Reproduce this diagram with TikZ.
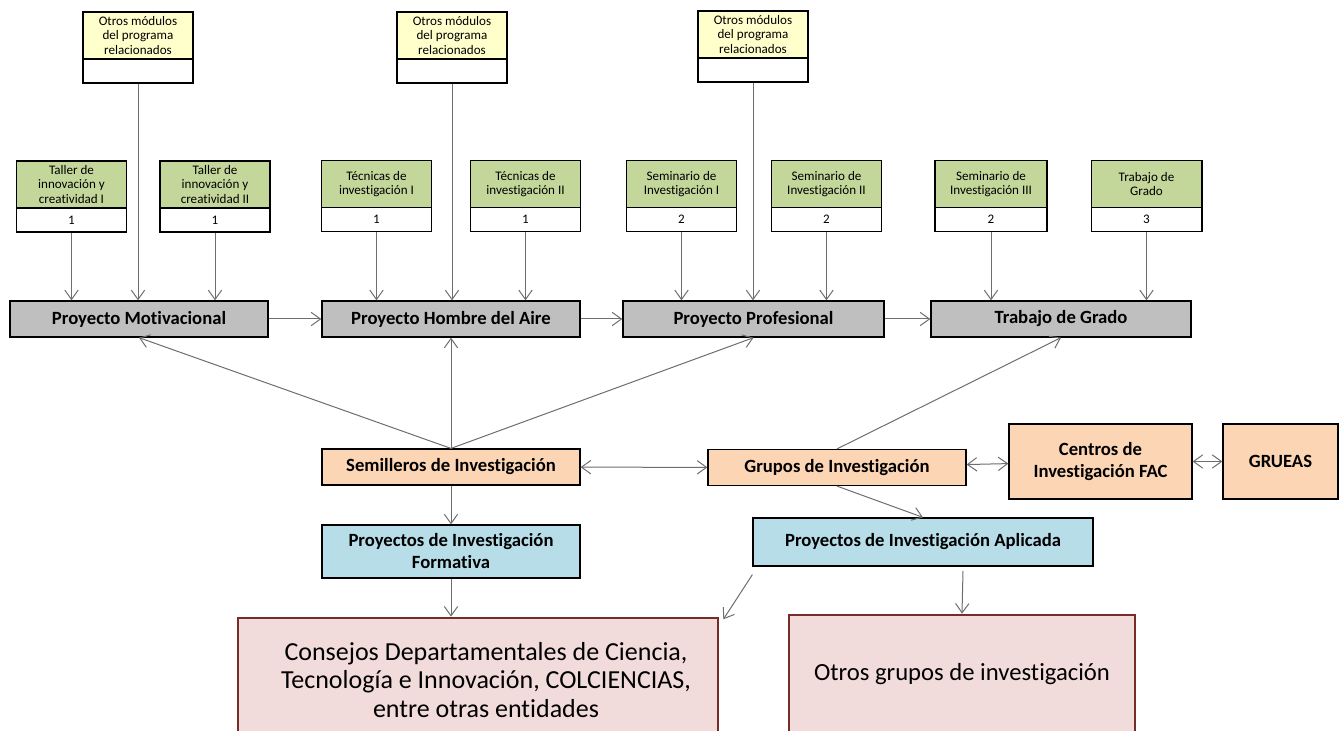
\documentclass[tikz,border=0pt]{standalone}
\usepackage{fontspec}
\setmainfont{Carlito}[Ligatures=CommonOff]
\usetikzlibrary{arrows.meta}

\definecolor{modyellow}{RGB}{255,255,204}
\definecolor{modgreen}{RGB}{196,215,155}
\definecolor{projgray}{RGB}{191,191,191}
\definecolor{semorange}{RGB}{252,213,180}
\definecolor{projblue}{RGB}{183,222,232}
\definecolor{entpink}{RGB}{242,220,219}
\definecolor{entborder}{RGB}{119,44,42}
\definecolor{linegray}{RGB}{110,110,110}

\tikzset{
  modbox/.style={draw=black, line width=1pt, fill=modyellow, inner sep=0pt, minimum width=82.5pt, minimum height=35.25pt, align=center, font=\fontsize{9.8}{10.7}\selectfont},
  greenbox/.style={modbox, fill=modgreen},
  numbox/.style={draw=black, line width=1pt, fill=white, inner sep=0pt, minimum width=82.5pt, minimum height=18pt, font=\fontsize{9.8}{10.7}\selectfont},
  projbox/.style={draw=black, line width=1pt, fill=projgray, inner sep=0pt, minimum width=193.5pt, minimum height=27pt, font=\fontsize{14}{16}\selectfont\bfseries},
  orangebox/.style={draw=black, line width=0.9pt, fill=semorange, inner sep=0pt, minimum height=27pt, align=center, font=\fontsize{14}{16.5}\selectfont\bfseries},
  bluebox/.style={orangebox, fill=projblue},
  pinkbox/.style={draw=entborder, line width=2pt, fill=entpink, inner sep=0pt, align=center, font=\fontsize{19.5}{21.4}\selectfont},
  arr/.style={draw=linegray, line width=0.75pt, -{Straight Barb[length=7pt,width=10pt]}},
  darr/.style={arr, {Straight Barb[length=7pt,width=10pt]}-{Straight Barb[length=7pt,width=10pt]}}
}

\begin{document}
\begin{tikzpicture}[x=0.75pt,y=0.75pt,yscale=-1,xscale=1]
\clip (0,0) rectangle (1340,731);
\fill[white] (0,0) rectangle (1340,731);

% modulos relacionados
\node (mod1) at (138,35.5) [modbox] {Otros módulos\\del programa\\relacionados};
\node (mod1n) at (138,71) [numbox] {};
\node (mod2) at (452,35.5) [modbox] {Otros módulos\\del programa\\relacionados};
\node (mod2n) at (452,71) [numbox] {};
\node (mod3) at (753,34.5) [modbox] {Otros módulos\\del programa\\relacionados};
\node (mod3n) at (753,70) [numbox] {};

% asignaturas
\node (tal1) at (71.5,184.5) [greenbox] {Taller de\\innovación y\\creatividad I};
\node (tal1n) at (71.5,220) [numbox] {1};
\node (tal2) at (215,184.5) [greenbox] {Taller de\\innovación y\\creatividad II};
\node (tal2n) at (215,220) [numbox] {1};
\node (tec1) at (376.5,184) [greenbox] {Técnicas de\\investigación I};
\node (tec1n) at (376.5,219.5) [numbox] {1};
\node (tec2) at (525.5,184) [greenbox] {Técnicas de\\investigación II};
\node (tec2n) at (525.5,219.5) [numbox] {1};
\node (sem1) at (681.5,184) [greenbox] {Seminario de\\Investigación I};
\node (sem1n) at (681.5,219.5) [numbox] {2};
\node (sem2) at (826.5,184) [greenbox] {Seminario de\\Investigación II};
\node (sem2n) at (826.5,219.5) [numbox] {2};
\node (sem3) at (991,184) [greenbox, minimum width=84pt] {Seminario de\\Investigación III};
\node (sem3n) at (991,219.5) [numbox, minimum width=84pt] {2};
\node (tgr) at (1146.5,184) [greenbox, minimum width=83pt] {Trabajo de\\Grado};
\node (tgrn) at (1146.5,219.5) [numbox, minimum width=83pt] {3};

% proyectos
\node (pmot) at (139,319) [projbox] {Proyecto Motivacional};
\node (phom) at (451,319) [projbox] {Proyecto Hombre del Aire};
\node (ppro) at (753.5,319) [projbox, minimum width=195.75pt] {Proyecto Profesional};
\node (ptra) at (1061,319) [projbox, minimum width=195pt] {Trabajo de Grado};

% investigacion
\node (semil) at (451,467) [orangebox, minimum width=193.5pt] {Semilleros de Investigación};
\node (grupos) at (837,467.5) [orangebox, minimum width=193.5pt] {Grupos de Investigación};
\node (centros) at (1100.5,461.5) [orangebox, minimum width=137.25pt, minimum height=56.25pt] {Centros de\\Investigación FAC};
\node (grueas) at (1280.5,461.5) [orangebox, minimum width=86.25pt, minimum height=56.25pt] {GRUEAS};
\node (pform) at (451,551.5) [bluebox, minimum width=193.5pt, minimum height=39.75pt] {Proyectos de Investigación\\Formativa};
\node (papl) at (923,542) [bluebox, minimum width=255pt, minimum height=36pt] {Proyectos de Investigación Aplicada};

% entidades
\node (consejos) at (478,680) [pinkbox, minimum width=360pt, minimum height=93pt] {\hspace*{12pt}Consejos Departamentales de Ciencia,\\\hspace*{12pt}Tecnología e Innovación, COLCIENCIAS,\\\hspace*{12pt}entre otras entidades};
\node (otrosg) at (962,674) [pinkbox, minimum width=259.5pt, minimum height=88.5pt, font=\fontsize{18.5}{21.4}\selectfont] {Otros grupos de investigación};
\coordinate (aplout) at (963,571);

% conectores
\foreach \m/\p in {mod1n/pmot, tal1n/pmot, tal2n/pmot, mod2n/phom, tec1n/phom, tec2n/phom, mod3n/ppro, sem1n/ppro, sem2n/ppro, sem3n/ptra, tgrn/ptra}
  \draw [arr] (\m.south) -- (\m.south |- \p.north);
\draw [arr] (pmot) -- (phom);
\draw [arr] (phom) -- (ppro);
\draw [arr] (ppro) -- (ptra);
\draw [arr] (semil.north) -- (pmot.south);
\draw [arr] (semil.north) -- (phom.south);
\draw [arr] (semil.north) -- (ppro.south);
\draw [arr] (grupos.north) -- (ptra.south);
\draw [darr] (semil) -- (grupos);
\draw [darr] (grupos) -- (centros);
\draw [darr] (centros) -- (grueas);
\draw [arr] (semil) -- (pform);
\draw [arr] (grupos.south) -- (papl.north);
\draw [arr] (pform.south) -- (pform.south |- consejos.north);
\draw [arr] ([yshift=6pt]papl.south west) -- ([xshift=3pt,yshift=2pt]consejos.north east);
\draw [arr] (aplout) -- (otrosg.north);

\end{tikzpicture}
\end{document}
